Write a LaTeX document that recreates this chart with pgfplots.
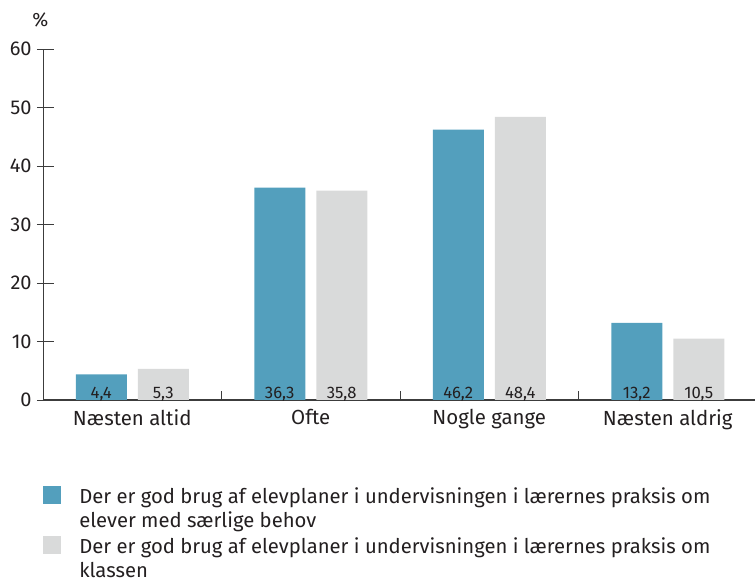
\documentclass[border=0pt]{standalone}
\usepackage{fontspec}
\setmainfont{Fira Sans}
\usepackage{pgfplots}
\pgfplotsset{compat=1.18}
\definecolor{cblue}{HTML}{539FBD}
\definecolor{cgray}{HTML}{D9DADA}
\definecolor{ctext}{HTML}{231F20}
\definecolor{caxis}{HTML}{3C3C3C}
\begin{document}
\color{ctext}%
\begin{tikzpicture}
\path[use as bounding box] (0,0) rectangle (566.25pt,435pt);
\begin{axis}[
  at={(32.25pt,135pt)}, anchor=south west,
  scale only axis, width=535.5pt, height=263.25pt,
  xmin=-0.5, xmax=3.5, ymin=0, ymax=60,
  ybar=8.25pt, bar width=38.25pt,
  axis x line=bottom, axis y line=left,
  x axis line style={-, draw=caxis, line width=1.1pt},
  y axis line style={-, draw=caxis, line width=0.7pt},
  tick align=inside,
  xtick={0,1,2,3},
  xticklabels={Næsten altid,Ofte,Nogle gange,Næsten aldrig},
  minor xtick={0.5,1.5,2.5},
  major x tick style={draw=none},
  minor x tick style={draw=caxis, line width=0.7pt},
  minor tick length=6.75pt,
  major tick length=12.75pt,
  ytick={0,10,20,30,40,50,60},
  ytick style={draw=caxis, line width=0.7pt, xshift=-4.5pt},
  /pgf/number format/assume math mode=true,
  yticklabel style={font=\fontsize{15pt}{18pt}\selectfont, xshift=-5pt},
  xticklabel style={font=\fontsize{15.3pt}{18pt}\selectfont, yshift=-3.5pt},
  ylabel={\%},
  ylabel style={rotate=-90, at={(axis description cs:0,1)}, anchor=south, inner sep=0pt, xshift=-1.9pt, yshift=16.5pt, font=\fontsize{14.5pt}{18pt}\selectfont},
  legend style={at={(axis description cs:0,0)}, anchor=north west, yshift=-64.5pt,
    draw=none, fill=none, inner sep=0pt, row sep=5.25pt,
    font=\fontsize{15.2pt}{18pt}\selectfont,
    nodes={inner sep=0pt, anchor=base west, align=left},
  },
  nodes near coords, point meta=explicit symbolic,
  visualization depends on={y \as \rawy},
  every node near coord/.append style={anchor=base, shift={(axis direction cs:0,-\rawy)}, yshift=1pt, inner sep=0pt, font=\fontsize{12.5pt}{15pt}\selectfont},
  clip=false,
]
\addplot[fill=cblue, draw=none,
  legend image code/.code={\fill[cblue] (0pt,17.25pt) rectangle (13.5pt,30.75pt); \path (27pt,0pt);}]
  coordinates {(0,4.4) [4,4] (1,36.3) [36,3] (2,46.2) [46,2] (3,13.2) [13,2]};
\addlegendentry{Der er god brug af elevplaner i undervisningen i lærernes praksis om\\elever med særlige behov}
\addplot[fill=cgray, draw=none,
  legend image code/.code={\fill[cgray] (0pt,17.25pt) rectangle (13.5pt,30.75pt); \path (27pt,0pt);}]
  coordinates {(0,5.3) [5,3] (1,35.8) [35,8] (2,48.4) [48,4] (3,10.5) [10,5]};
\addlegendentry{Der er god brug af elevplaner i undervisningen i lærernes praksis om\\klassen}
\end{axis}
\end{tikzpicture}
\end{document}
